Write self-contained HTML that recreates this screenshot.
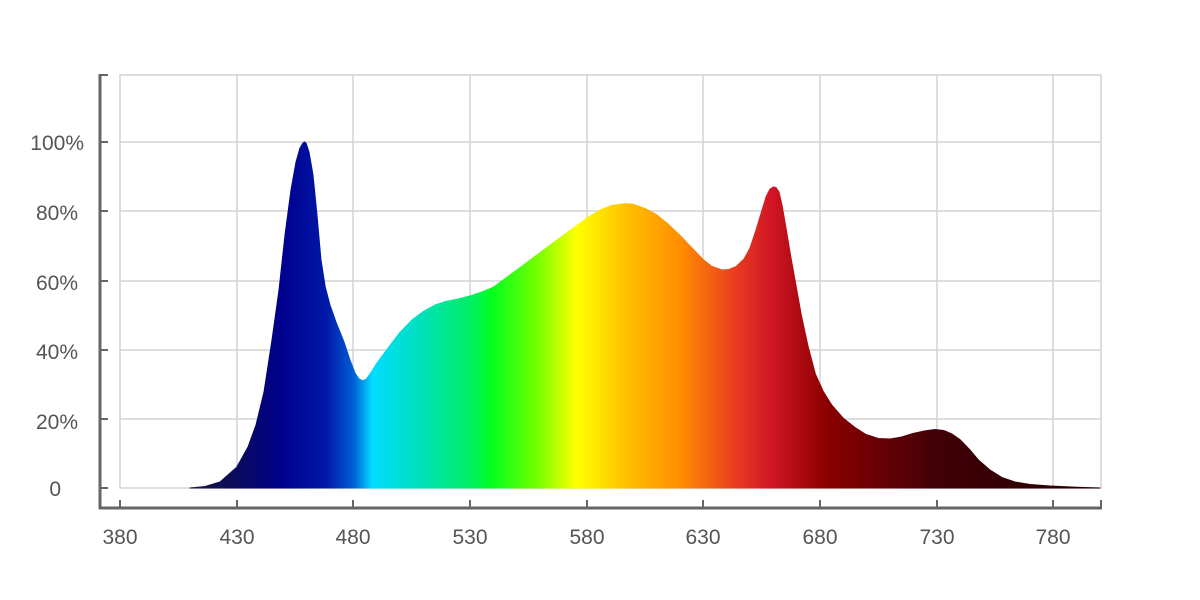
<!DOCTYPE html>
<html><head><meta charset="utf-8"><style>
html,body{margin:0;padding:0;background:#fff;}
svg{display:block;}
text{font-family:"Liberation Sans",Arial,sans-serif;font-size:21px;fill:#555;}
</style></head><body>
<svg width="1200" height="600" viewBox="0 0 1200 600">
<defs>
<linearGradient id="g" gradientUnits="userSpaceOnUse" x1="190" y1="0" x2="1100" y2="0">
<stop offset="0" stop-color="#1a1a40"/>
<stop offset="0.05" stop-color="#0b0b5c"/>
<stop offset="0.1" stop-color="#00008c"/>
<stop offset="0.15" stop-color="#0018a8"/>
<stop offset="0.18" stop-color="#0060d8"/>
<stop offset="0.2" stop-color="#00dcff"/>
<stop offset="0.25" stop-color="#00e0c0"/>
<stop offset="0.31" stop-color="#00f060"/>
<stop offset="0.33" stop-color="#00ff20"/>
<stop offset="0.38" stop-color="#70ff00"/>
<stop offset="0.425" stop-color="#ffff00"/>
<stop offset="0.48" stop-color="#ffc000"/>
<stop offset="0.54" stop-color="#ff8c00"/>
<stop offset="0.6" stop-color="#e83c20"/>
<stop offset="0.64" stop-color="#d01424"/>
<stop offset="0.7" stop-color="#8a0000"/>
<stop offset="0.82" stop-color="#420008"/>
<stop offset="1" stop-color="#200000"/>
</linearGradient>
</defs>
<rect x="120" y="75" width="981" height="413" fill="none" stroke="#d4d4d4" stroke-width="1.5"/>
<g stroke="#d4d4d4" stroke-width="1.5">
<line x1="237" y1="75" x2="237" y2="488"/><line x1="353" y1="75" x2="353" y2="488"/>
<line x1="470" y1="75" x2="470" y2="488"/><line x1="587" y1="75" x2="587" y2="488"/>
<line x1="703" y1="75" x2="703" y2="488"/><line x1="820" y1="75" x2="820" y2="488"/>
<line x1="937" y1="75" x2="937" y2="488"/><line x1="1053" y1="75" x2="1053" y2="488"/>
<line x1="120" y1="142" x2="1101" y2="142"/><line x1="120" y1="211" x2="1101" y2="211"/>
<line x1="120" y1="281" x2="1101" y2="281"/><line x1="120" y1="350" x2="1101" y2="350"/>
<line x1="120" y1="419" x2="1101" y2="419"/>
</g>
<path fill="url(#g)" stroke="url(#g)" stroke-width="1" stroke-linejoin="round" d="M190,488 L205,486.5 L220,482 L236.7,467.2 L248,447 L256,425 L264,392 L272,340 L279,290 L285,235 L291,190 L296,162 L300,148 L303,143 L304.5,142 L306,143 L309,152 L313,175 L317,215 L321,260 L325.3,287.3 L330,305 L336,322 L344,342 L350,360 L355,373 L359,379 L362.7,380.7 L366,379.5 L370,374 L376.7,363.4 L388,348 L400,332.3 L412,320 L423.3,311.5 L435,305 L446.7,301.2 L458,299 L470,296 L482,292 L493.3,287.3 L516.7,270 L540,252.7 L563.3,235.4 L586.7,218.1 L600,210 L612,205.5 L625,203.6 L633.3,204.3 L645,208.5 L656.7,214.7 L668,224 L680,235.4 L692,248 L703.3,259.6 L712,266.5 L722,270 L729,269.5 L736,266.6 L744,259 L750,248 L756,230 L761.7,211.2 L766,197 L770,189 L773.3,187 L776,187.5 L779,192 L782,205 L786,228 L790,252 L795,280 L801.3,315 L808,346 L815.3,373.8 L823,391 L831.7,405 L843,418 L855,427.5 L866,434.5 L878.3,438.5 L890,439 L901.7,437 L913,433.5 L925,430.9 L935,429.5 L943.7,430.5 L952,434 L960,439.6 L970,450 L978.7,460.3 L990,470 L1002,477.6 L1015,482 L1030,484.5 L1050,486 L1076.7,487.2 L1100,488 Z"/>
<g stroke="#666" stroke-width="3" fill="none">
<line x1="100" y1="74" x2="100" y2="509"/>
<line x1="99" y1="508" x2="1102" y2="508"/>
</g>
<g stroke="#666" stroke-width="2">
<line x1="100" y1="75" x2="108" y2="75"/><line x1="100" y1="142" x2="108" y2="142"/>
<line x1="100" y1="211" x2="108" y2="211"/><line x1="100" y1="281" x2="108" y2="281"/>
<line x1="100" y1="350" x2="108" y2="350"/><line x1="100" y1="419" x2="108" y2="419"/>
<line x1="100" y1="488" x2="108" y2="488"/>
<line x1="120" y1="500" x2="120" y2="508"/><line x1="237" y1="500" x2="237" y2="508"/>
<line x1="353" y1="500" x2="353" y2="508"/><line x1="470" y1="500" x2="470" y2="508"/>
<line x1="587" y1="500" x2="587" y2="508"/><line x1="703" y1="500" x2="703" y2="508"/>
<line x1="820" y1="500" x2="820" y2="508"/><line x1="937" y1="500" x2="937" y2="508"/>
<line x1="1053" y1="500" x2="1053" y2="508"/><line x1="1101" y1="500" x2="1101" y2="508"/>
</g>
<g text-anchor="end">
<text x="84" y="150">100%</text><text x="78" y="220">80%</text>
<text x="78" y="290">60%</text><text x="78" y="359">40%</text>
<text x="78" y="429">20%</text><text x="61" y="496">0</text>
</g>
<g text-anchor="middle">
<text x="120" y="544">380</text><text x="237" y="544">430</text><text x="353" y="544">480</text>
<text x="470" y="544">530</text><text x="587" y="544">580</text><text x="703" y="544">630</text>
<text x="820" y="544">680</text><text x="937" y="544">730</text><text x="1053" y="544">780</text>
</g>
</svg>
</body></html>
